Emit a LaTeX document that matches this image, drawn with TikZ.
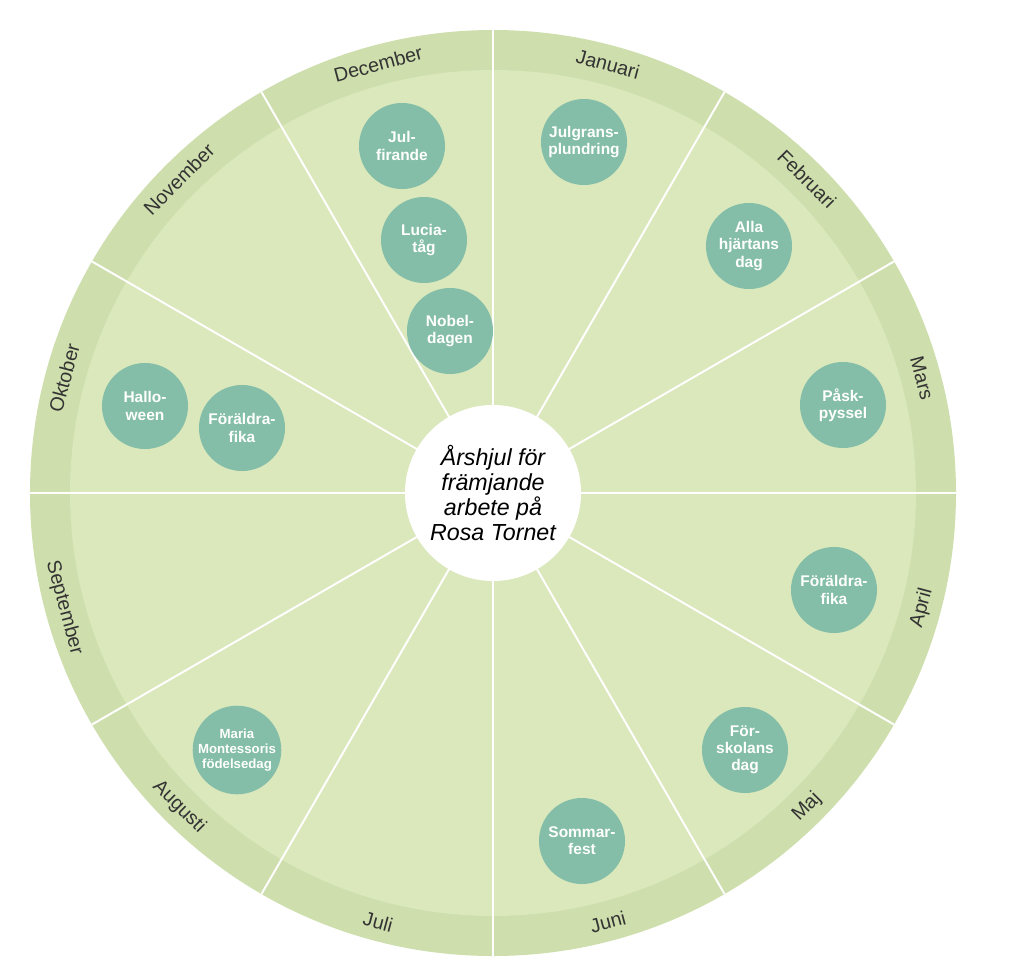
\documentclass[tikz,border=0pt]{standalone}
\usepackage{fontspec}
\setmainfont{Liberation Sans}
\usepackage{xcolor}
\usetikzlibrary{positioning}
\definecolor{sectorgreen}{RGB}{218,232,188}
\definecolor{rimgreen}{RGB}{206,222,172}
\definecolor{eventteal}{RGB}{132,190,168}

\begin{document}
\begin{tikzpicture}[
  x=0.025cm, y=0.025cm,
  month/.style={font=\fontsize{14}{16}\selectfont, text=black!80, inner sep=0pt},
  event/.style={circle, fill=eventteal, minimum size=2.15cm, inner sep=0pt,
                align=center, text=white, font=\bfseries\fontsize{11}{12.2}\selectfont},
  hub/.style={circle, fill=white, minimum size=4.4cm, inner sep=0pt, align=center,
              font=\itshape\fontsize{16.5}{18}\selectfont},
  divider/.style={draw=white, line width=1.4pt}
]
  \fill[white] (-493,-483) rectangle (531,493);
  \useasboundingbox (-493,-483) rectangle (531,493);

  \fill[rimgreen] (0,0) circle (463);
  \fill[sectorgreen] (0,0) circle (423);
  \draw[divider] (0,0) -- (0:463) (0,0) -- (30:463) (0,0) -- (60:463)
                 (0,0) -- (90:463) (0,0) -- (120:463) (0,0) -- (150:463)
                 (0,0) -- (180:463) (0,0) -- (210:463) (0,0) -- (240:463)
                 (0,0) -- (270:463) (0,0) -- (300:463) (0,0) -- (330:463);

  \node[hub] (hub) at (0,0) {Årshjul för\\främjande\\arbete på\\Rosa Tornet};

  \node[month, rotate=-15] (jan) at (75:444) {Januari};
  \node[month, rotate=-45] (feb) at (45:444) {Februari};
  \node[month, rotate=-75] (mar) at (15:444) {Mars};
  \node[month, rotate=75]  (apr) at (-15:444) {April};
  \node[month, rotate=45]  (maj) at (-45:444) {Maj};
  \node[month, rotate=15]  (jun) at (-75:444) {Juni};
  \node[month, rotate=-15] (jul) at (-105:444) {Juli};
  \node[month, rotate=-45] (aug) at (-135:444) {Augusti};
  \node[month, rotate=-75] (sep) at (-165:444) {September};
  \node[month, rotate=75]  (okt) at (165:444) {Oktober};
  \node[month, rotate=45]  (nov) at (135:444) {November};
  \node[month, rotate=15]  (dec) at (105:444) {December};

  \node[event] (julfirande) at (-91,347) {Jul-\\firande};
  \node[event] (lucia) at (-69,253) {Lucia-\\tåg};
  \node[event] (nobel) at (-43,162) {Nobel-\\dagen};
  \node[event] (julgran) at (91,351) {Julgrans-\\plundring};
  \node[event] (allahjartans) at (256,247) {Alla\\hjärtans\\dag};
  \node[event] (pask) at (350,88) {Påsk-\\pyssel};
  \node[event] (fikaapr) at (341,-97) {Föräldra-\\fika};
  \node[event] (forskola) at (252,-257) {För-\\skolans\\dag};
  \node[event] (sommar) at (89,-348) {Sommar-\\fest};
  \node[event, font=\bfseries\fontsize{9.4}{10.8}\selectfont] (montessori) at (-256,-257)
    {Maria\\Montessoris\\födelsedag};
  \node[event] (fikaokt) at (-251,65) {Föräldra-\\fika};
  \node[event] (halloween) at (-348,87) {Hallo-\\ween};
\end{tikzpicture}
\end{document}
